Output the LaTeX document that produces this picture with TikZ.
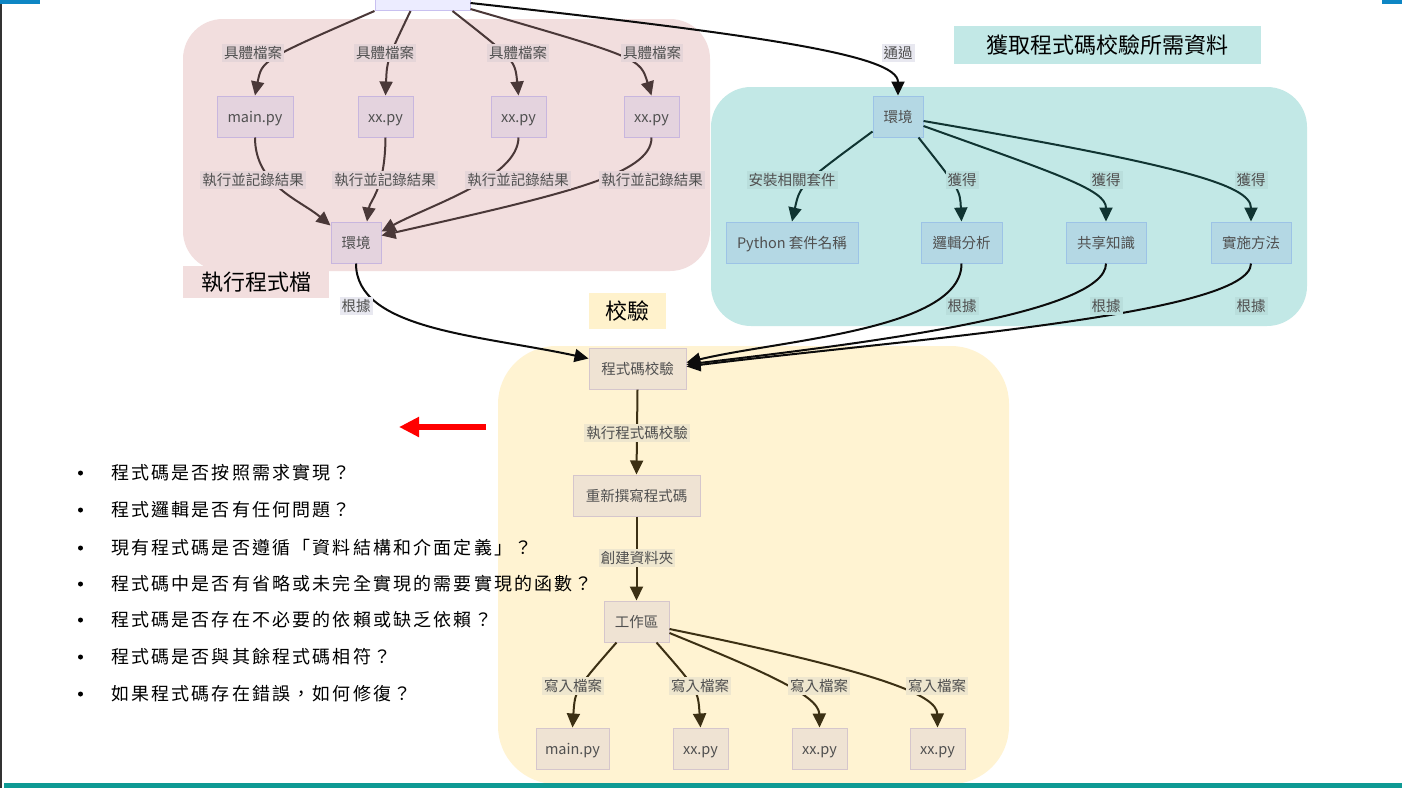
\documentclass[tikz,border=0pt]{standalone}
\usepackage{fontspec}
\setmainfont{Noto Sans CJK TC}
\usetikzlibrary{arrows.meta}
\definecolor{pinkbg}{RGB}{242,222,222}
\definecolor{tealbg}{RGB}{194,232,230}
\definecolor{yelbg}{RGB}{255,243,210}
\definecolor{yeltitle}{RGB}{255,242,204}
\definecolor{pnodefill}{RGB}{228,211,222}
\definecolor{pnodedraw}{RGB}{200,182,222}
\definecolor{tnodefill}{RGB}{180,216,228}
\definecolor{tnodedraw}{RGB}{156,195,230}
\definecolor{ynodefill}{RGB}{239,227,211}
\definecolor{ynodedraw}{RGB}{213,198,204}
\definecolor{topfill}{RGB}{236,236,255}
\definecolor{topdraw}{RGB}{200,192,240}
\definecolor{plbl}{RGB}{229,213,216}
\definecolor{tlbl}{RGB}{185,222,220}
\definecolor{ylbl}{RGB}{238,230,206}
\definecolor{llbl}{RGB}{232,232,240}
\definecolor{pedge}{RGB}{74,56,56}
\definecolor{tedge}{RGB}{16,52,50}
\definecolor{yedge}{RGB}{60,48,20}
\definecolor{kedge}{RGB}{12,12,12}
\definecolor{txtgray}{RGB}{80,80,80}
\definecolor{barblue}{RGB}{14,134,196}
\definecolor{barteal}{RGB}{14,154,148}
\begin{document}
\begin{tikzpicture}[x=1pt,y=-1pt,
  basenode/.style={line width=1pt, minimum height=41pt, inner sep=0pt, text height=12pt, text depth=1pt, text=txtgray, font=\fontsize{14.5}{16}\selectfont},
  pnode/.style={basenode, draw=pnodedraw, fill=pnodefill},
  tnode/.style={basenode, draw=tnodedraw, fill=tnodefill},
  ynode/.style={basenode, draw=ynodedraw, fill=ynodefill},
  lblbase/.style={inner sep=2pt, text=txtgray, font=\fontsize{14.5}{16}\selectfont},
  plabel/.style={lblbase, fill=plbl},
  tlabel/.style={lblbase, fill=tlbl},
  ylabel/.style={lblbase, fill=ylbl},
  llabel/.style={lblbase, fill=llbl},
  titlebox/.style={inner sep=0pt, text=black, font=\fontsize{22}{26}\selectfont},
  arr/.style={line width=2pt, -{Triangle[length=14pt,width=13pt]}},
  pe/.style={arr, draw=pedge},
  te/.style={arr, draw=tedge},
  ye/.style={arr, draw=yedge},
  ke/.style={arr, draw=kedge},
  bullettext/.style={anchor=west, inner sep=0pt, text=black, font=\fontsize{18}{22}\selectfont\addfontfeature{LetterSpace=12}}
]
\useasboundingbox (0,0) rectangle (1402,788);
\clip (0,0) rectangle (1402,788);
\fill[white] (0,0) rectangle (1402,788);

% clusters
\fill[pinkbg, rounded corners=40pt] (183,19) rectangle (710,271);
\fill[tealbg, rounded corners=40pt] (711,87) rectangle (1307,326);
\fill[yelbg, rounded corners=58pt] (498,346) rectangle (1009,784);

% cluster titles
\node[titlebox, fill=pinkbg, minimum width=146pt, minimum height=32pt] (t1) at (256,282) {執行程式檔};
\node[titlebox, fill=tealbg, minimum width=307pt, minimum height=38pt] (t2) at (1107.5,45) {獲取程式碼校驗所需資料};
\node[titlebox, fill=yeltitle, minimum width=77pt, minimum height=36pt] (t3) at (627.5,311) {校驗};

% top node
\node[basenode, draw=topdraw, fill=topfill, minimum width=95pt] (src) at (422.5,-10) {};

% pink nodes
\node[pnode, minimum width=76pt] (pm) at (255,116.5) {main.py};
\node[pnode, minimum width=55pt] (p1) at (385.5,116.5) {xx.py};
\node[pnode, minimum width=55pt] (p2) at (518.5,116.5) {xx.py};
\node[pnode, minimum width=55pt] (p3) at (651.5,116.5) {xx.py};
\node[pnode, minimum width=50pt] (penv) at (356,242.5) {環境};

% teal nodes
\node[tnode, minimum width=50pt] (tenv) at (898,116.5) {環境};
\node[tnode, minimum width=132pt] (tpy) at (792,242.5) {Python 套件名稱};
\node[tnode, minimum width=81pt] (tlog) at (961.5,242.5) {邏輯分析};
\node[tnode, minimum width=80pt] (tshare) at (1106,242.5) {共享知識};
\node[tnode, minimum width=80pt] (timpl) at (1251,242.5) {實施方法};

% yellow nodes
\node[ynode, minimum width=97pt] (ycheck) at (637.5,368.5) {程式碼校驗};
\node[ynode, minimum width=127pt] (yrw) at (636.5,495.5) {重新撰寫程式碼};
\node[ynode, minimum width=65pt] (ywork) at (636.5,621.5) {工作區};
\node[ynode, minimum width=73pt] (ym) at (572.5,748.5) {main.py};
\node[ynode, minimum width=55pt] (y1) at (700.5,748.5) {xx.py};
\node[ynode, minimum width=55pt] (y2) at (819.5,748.5) {xx.py};
\node[ynode, minimum width=55pt] (y3) at (937.5,748.5) {xx.py};

% edges from top node
\draw[pe] (src.south west) .. controls (262,60) .. (pm.north);
\draw[pe] ([xshift=-12pt]src.south) .. controls (387,60) .. (p1.north);
\draw[pe] ([xshift=30pt]src.south) .. controls (515,60) .. (p2.north);
\draw[pe] ([yshift=2pt]src.south east) .. controls (640,58) .. (p3.north);
\draw[ke] ([yshift=8pt]src.south east) .. controls (760,35) and (898,55) .. (tenv.north);

% pink to env
\draw[pe] (pm.south) .. controls (255,185) and (300,200) .. ([yshift=-4pt]penv.north west);
\draw[pe] (p1.south) .. controls (385,190) and (370,200) .. ([xshift=11pt]penv.north);
\draw[pe] (p2.south) .. controls (518,178) and (430,205) .. ([yshift=-10pt]penv.north east);
\draw[pe] (p3.south) .. controls (652,175) and (560,195) .. ([yshift=-14pt]penv.north east);

% env to check
\draw[ke] (penv.south) .. controls (356,330) and (480,335) .. ([yshift=10pt]ycheck.west);

% teal edges
\draw[te] ([yshift=6pt]tenv.south west) .. controls (800,185) .. (tpy.north);
\draw[te] ([xshift=-5pt]tenv.south east) .. controls (960,190) .. (tlog.north);
\draw[te] ([yshift=-9.5pt]tenv.east) .. controls (1060,175) and (1106,190) .. (tshare.north);
\draw[te] ([yshift=-4.5pt]tenv.east) .. controls (1180,165) and (1251,185) .. (timpl.north);

\draw[ke] (tlog.south) .. controls (962,330) and (780,340) .. ([yshift=6pt]ycheck.east);
\draw[ke] (tshare.south) .. controls (1106,315) and (850,345) .. ([yshift=4pt]ycheck.east);
\draw[ke] (timpl.south) .. controls (1251,315) and (900,340) .. ([yshift=2pt]ycheck.east);

% yellow edges
\draw[ye] (ycheck.south) -- (yrw.north);
\draw[ye] (yrw.south) -- (ywork.north);
\draw[ye] ([xshift=-20pt]ywork.south) .. controls (575,690) .. (ym.north);
\draw[ye] ([xshift=20pt]ywork.south) .. controls (698,690) .. (y1.north);
\draw[ye] ([yshift=-11.5pt]ywork.east) .. controls (760,670) and (819,695) .. (y2.north);
\draw[ye] ([yshift=-7.5pt]ywork.east) .. controls (880,672) and (937,695) .. (y3.north);

% labels
\foreach \x/\n in {253/a,385/b,518/c,652/d} {
  \node[plabel] (lf\n) at (\x,53) {具體檔案};
  \node[plabel] (lr\n) at (\x,180) {執行並記錄結果};
}
\node[llabel] (lg1) at (356,306) {根據};
\node[llabel] (lpass) at (898,53) {通過};
\node[tlabel] (linst) at (792,180) {安裝相關套件};
\foreach \x/\n in {962/a,1106/b,1251/c} {
  \node[tlabel] (lget\n) at (\x,180) {獲得};
  \node[tlabel] (lbase\n) at (\x,306) {根據};
}
\node[ylabel] (lrun) at (637,433) {執行程式碼校驗};
\node[ylabel] (lmk) at (637,558) {創建資料夾};
\foreach \x/\n in {573/a,700/b,819/c,937/d} {
  \node[ylabel] (lw\n) at (\x,686) {寫入檔案};
}

% red arrow
\coordinate (ra1) at (486,427);
\coordinate (ra2) at (399,427);
\draw[red, line width=6pt, -{Triangle[length=20pt,width=19pt]}] (ra1) -- (ra2);

% bullets
\foreach \y/\t [count=\i] in {473/程式碼是否按照需求實現？,510/程式邏輯是否有任何問題？,548/現有程式碼是否遵循「資料結構和介面定義」？,584/程式碼中是否有省略或未完全實現的需要實現的函數？,620/程式碼是否存在不必要的依賴或缺乏依賴？,657/程式碼是否與其餘程式碼相符？,694/如果程式碼存在錯誤，如何修復？} {
  \fill[black] (80.5,\y) circle (2.5pt);
  \node[bullettext] (bl\i) at (111,\y) {\t};
}

% frame bars
\fill[black!80] (0,0) rectangle (2,788);
\fill[barblue] (0,0) rectangle (40,4);
\fill[barblue] (1382,0) rectangle (1402,4);
\fill[barteal] (4,783) rectangle (1402,788);
\end{tikzpicture}
\end{document}
